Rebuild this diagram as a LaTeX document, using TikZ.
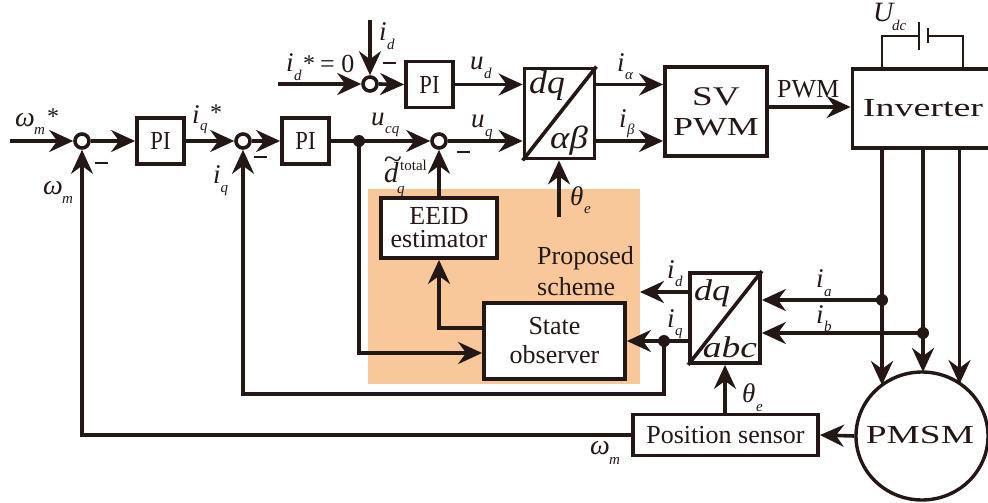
\documentclass[tikz,border=0pt]{standalone}
\usepackage{fontspec}
\setmainfont{Liberation Serif}
\usetikzlibrary{arrows.meta,calc,shapes.geometric}
\definecolor{ink}{HTML}{231815}
\definecolor{orangebg}{HTML}{F8C89B}
\newcommand{\fs}[1]{\fontsize{#1}{#1}\selectfont}
\tikzset{
  x=1pt,y=-1pt,
  line/.style={draw=ink,line width=3.6pt,line join=miter},
  thinl/.style={draw=ink,line width=1.9pt},
  arr/.style={line,-{Stealth[length=24pt,width=22pt,inset=8pt]}},
  blk/.style={draw=ink,line width=3.8pt,fill=white,inner sep=0pt,text=ink,align=center,font=\fs{26}},
  txt/.style={inner sep=0pt,text=ink,anchor=base west},
  sumn/.style={circle,draw=ink,line width=3.6pt,fill=white,minimum size=14pt,inner sep=0pt},
  dotn/.style={circle,fill=ink,minimum size=12pt,inner sep=0pt},
}
\begin{document}
\begin{tikzpicture}
\useasboundingbox (0,0) rectangle (988,503);
\fill[orangebg] (368,189) rectangle (640,384);
% junctions
\node[sumn] (s1) at (82,141) {};
\node[sumn] (s2) at (243,141) {};
\node[sumn] (s3) at (439,141) {};
\node[sumn] (sd) at (370,84) {};
% boxes
\node[blk,minimum width=47pt,minimum height=46pt] (pi1) at (160.5,141) {\scalebox{.87}[1]{PI}};
\node[blk,minimum width=47pt,minimum height=46pt] (pi2) at (305.5,141) {\scalebox{.87}[1]{PI}};
\node[blk,minimum width=47pt,minimum height=46pt] (pid) at (429.5,84.5) {\scalebox{.87}[1]{PI}};
\node[blk,minimum width=70pt,minimum height=90pt] (dab) at (559.5,113.5) {};
\node[blk,minimum width=102pt,minimum height=89pt] (sv) at (716,111.5) {\fs{27}\scalebox{1.38}[1]{SV}\\[4pt]\scalebox{1.38}[1]{PWM}};
\node[blk,minimum width=145pt,minimum height=79pt] (inv) at (925,108.5) {\hspace{-4pt}\scalebox{1.46}[1]{Inverter}};
\node[blk,minimum width=116pt,minimum height=60pt] (eeid) at (439,228) {EEID\\[-3pt]estimator};
\node[blk,minimum width=141pt,minimum height=76pt] (obs) at (554.5,341) {State\\[3pt]observer};
\node[blk,minimum width=70pt,minimum height=90pt] (dabc) at (725,318) {};
\node[blk,minimum width=185pt,minimum height=41pt] (pos) at (725.5,435) {Position sensor};
\node[blk,ellipse,line width=3.4pt,minimum width=132pt,minimum height=128pt] (pm) at (922,436) {};
\node[txt,anchor=center] (pmt) at (920,435) {\fs{26}\scalebox{1.44}[1]{PMSM}};
% transformer diagonals and labels
\draw[line] (dab.south west) -- (dab.north east);
\draw[line] (dabc.south west) -- (dabc.north east);
\node[txt,anchor=center] (tdq1) at (547,86) {\fs{33}\scalebox{1.08}[1]{\textit{dq}}};
\node[txt,anchor=center] (tab1) at (569,141) {\fs{32}\scalebox{1.15}[1]{\textit{αβ}}};
\node[txt,anchor=center] (tdq2) at (712,293) {\fs{30}\scalebox{1.2}[1]{\textit{dq}}};
\node[txt,anchor=center] (tab2) at (730,347) {\fs{30}\scalebox{1.25}[1]{\textit{abc}}};
% free ends and corners
\coordinate (in1) at (10,141);
\coordinate (ind) at (278,84);
\coordinate (top) at (370,20);
\coordinate (th1) at (559,217);
\node[dotn] (d1) at (359,141) {};
\node[dotn] (da) at (882,300) {};
\node[dotn] (db) at (923,333) {};
\node[dotn] (dq) at (664,341) {};
\coordinate (idend) at (640,292);
% forward path
\draw[arr] (in1) -- (s1.west);
\draw[arr] (s1.east) -- (pi1.west);
\draw[arr] (pi1.east) -- (s2.west);
\draw[arr] (s2.east) -- (pi2.west);
\draw[line] (pi2.east) -- (d1.center);
\draw[arr] (d1.center) -- (s3.west);
\draw[arr] (ind) -- (sd.west);
\draw[arr] (top) -- (sd.north);
\draw[arr] (sd.east) -- (pid.west);
\draw[arr] (pid.east) -- (dab.west |- pid.east);
\draw[arr] (s3.east) -- (dab.west |- s3.east);
\draw[arr] (dab.east |- pid.east) -- (sv.west |- pid.east);
\draw[arr] (dab.east |- s3.east) -- (sv.west |- s3.east);
\draw[arr] (sv.east |- 0,107) -- (inv.west |- 0,107);
\draw[arr] (th1) -- (dab.south -| th1);
% estimator
\draw[arr] (eeid.north) -- (s3.south);
\draw[arr] (d1.center) |- (obs.west |- 0,353);
\draw[arr] (obs.west |- 0,328) -| (eeid.south);
% currents
\draw[line] (dabc.west |- dq) -- (dq.center);
\draw[arr] (dq.center) -- (obs.east |- dq);
\draw[arr] (dabc.west |- idend) -- (idend);
\draw[arr] (dq.center) |- (s2.south |- 0,394) -- (s2.south);
\draw[arr] (da.center) -- (dabc.east |- da);
\draw[arr] (db.center) -- (dabc.east |- db);
% phases
\draw[arr] (882,148) -- (882,385);
\draw[arr] (923,148) -- (923,372);
\draw[arr] (959.5,148) -- (959.5,384);
% sensor
\draw[arr] (pm.west) -- (pos.east);
\draw[arr] (pos.north -| dabc) -- (dabc.south);
\draw[arr] (pos.west) -| (s1.south);
% battery
\coordinate (bl) at (882,36);
\coordinate (br) at (963,36);
\draw[thinl] (inv.north -| bl) -- (bl) -- (919,36);
\draw[thinl] (inv.north -| br) -- (br) -- (928,36);
\draw[draw=ink,line width=2.2pt] (919,22) -- (919,50);
\draw[draw=ink,line width=2.2pt] (928,28) -- (928,43);
% minus signs
\foreach \n/\x/\y in {m1/101/163,m2/260/157,m3/463/152,m4/389/63}{\node[txt,anchor=center,fill=ink,minimum width=13pt,minimum height=1.6pt] (\n) at (\x,\y) {};}
% labels
\node[txt] at (15,126) {\fs{28}\textit{ω}};
\node[txt] at (34,134) {\fs{15}\textit{m}};
\node[txt] at (47,124) {\fs{24}*};
\node[txt] at (43,194) {\fs{28}\textit{ω}};
\node[txt] at (62,203) {\fs{15}\textit{m}};
\node[txt] at (590,454) {\fs{28}\textit{ω}};
\node[txt] at (609,464) {\fs{15}\textit{m}};
\node[txt] at (192,123) {\fs{27}\textit{i}};
\node[txt] at (200,130) {\fs{15}\textit{q}};
\node[txt] at (210,120) {\fs{24}*};
\node[txt] at (213,183) {\fs{27}\textit{i}};
\node[txt] at (220.5,192) {\fs{15}\textit{q}};
\node[txt] at (286,72) {\fs{27}\textit{i}};
\node[txt] at (294,81) {\fs{15}\textit{d}};
\node[txt] at (303,71) {\fs{24}*};
\node[txt] at (320,73) {\fs{26}= 0};
\node[txt] at (379,41) {\fs{27}\textit{i}};
\node[txt] at (387,50) {\fs{15}\textit{d}};
\node[txt] at (470,70) {\fs{27}\textit{u}};
\node[txt] at (484,78) {\fs{15}\textit{d}};
\node[txt] at (471,127) {\fs{27}\textit{u}};
\node[txt] at (485,136) {\fs{15}\textit{q}};
\node[txt] at (371,125) {\fs{27}\textit{u}};
\node[txt] at (385,133) {\fs{15}\textit{cq}};
\node[txt] at (384,182) {\fs{29}\textit{d}};
\node[txt,anchor=base] at (393,168) {\fs{28}\scalebox{1.2}[1]{\char`~}};
\node[txt] at (397,193) {\fs{15}\textit{q}};
\node[txt] at (400,170) {\fs{15}total};
\node[txt] at (617,72) {\fs{27}\textit{i}};
\node[txt] at (625,80) {\fs{15}\textit{α}};
\node[txt] at (619,127) {\fs{27}\textit{i}};
\node[txt] at (627,134) {\fs{15}\textit{β}};
\node[txt] at (570,205) {\fs{27}\textit{θ}};
\node[txt] at (584,213) {\fs{15}\textit{e}};
\node[txt] at (777,97) {\fs{26}PWM};
\node[txt] at (873,22) {\fs{28}\textit{U}};
\node[txt] at (892,31) {\fs{15}\textit{dc}};
\node[txt] at (537,264) {\fs{26}Proposed};
\node[txt] at (537,295) {\fs{26}scheme};
\node[txt] at (667,278) {\fs{27}\textit{i}};
\node[txt] at (675,286) {\fs{15}\textit{d}};
\node[txt] at (667,327) {\fs{27}\textit{i}};
\node[txt] at (675,335) {\fs{15}\textit{q}};
\node[txt] at (816,287) {\fs{27}\textit{i}};
\node[txt] at (824,296) {\fs{15}\textit{a}};
\node[txt] at (816,323) {\fs{27}\textit{i}};
\node[txt] at (824,331) {\fs{15}\textit{b}};
\node[txt] at (742,402) {\fs{27}\textit{θ}};
\node[txt] at (756,411) {\fs{15}\textit{e}};
\end{tikzpicture}
\end{document}
